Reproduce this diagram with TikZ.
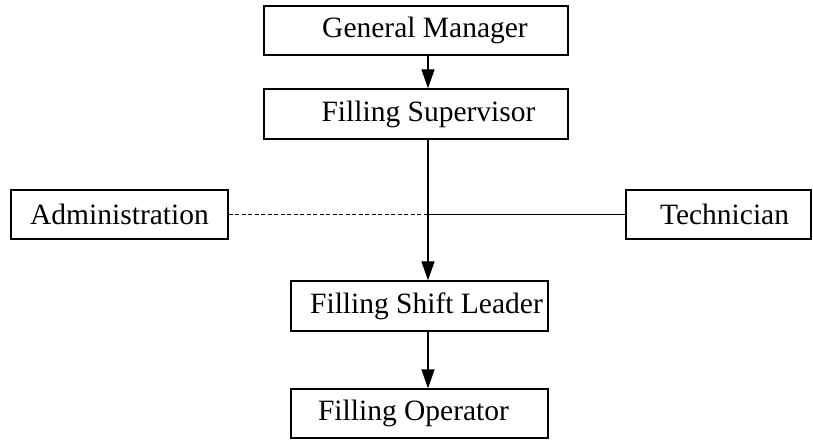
\documentclass[tikz,border=0pt]{standalone}
\usepackage{fontspec}
\setmainfont{Liberation Serif}
\usetikzlibrary{arrows.meta}
\begin{document}
\begin{tikzpicture}[x=1pt,y=1pt,
  box/.style={draw=black, line width=1.3pt, fill=white, inner sep=0pt, minimum height=49pt,
    font=\fontsize{29.5}{32}\selectfont, anchor=center},
  arr/.style={line width=1.2pt, -{Triangle[width=13pt,length=19pt]}},
  solidline/.style={line width=1.7pt},
  dashline/.style={line width=0.9pt, dash pattern=on 4pt off 2.5pt}]
\clip (0,0) rectangle (813,441);
\fill[white] (0,0) rectangle (813,441);
\node[box, minimum width=304pt] (gm) at (416,410.5) {\hspace*{18pt}General Manager};
\node[box, minimum width=304pt, minimum height=50pt] (fs) at (416,327) {\hspace*{25pt}Filling Supervisor};
\node[box, minimum width=217pt] (adm) at (119.5,226.5) {Administration};
\node[box, minimum width=185pt] (tech) at (718.5,226.5) {\hspace*{12pt}Technician};
\node[box, minimum width=257pt, minimum height=50pt] (fsl) at (419.5,135) {\hspace*{14pt}Filling Shift Leader};
\node[box, minimum width=257pt] (fo) at (419.5,27.5) {Filling Operator\hspace*{12pt}};
\coordinate (j) at (428,226.5);
\draw[arr] (gm.south -| j) -- (fs.north -| j);
\draw[arr] (fs.south -| j) -- (fsl.north -| j);
\draw[dashline] (adm.east) -- (j);
\draw[solidline] (j) -- (tech.west);
\draw[arr] (fsl.south -| j) -- (fo.north -| j);
\end{tikzpicture}
\end{document}
